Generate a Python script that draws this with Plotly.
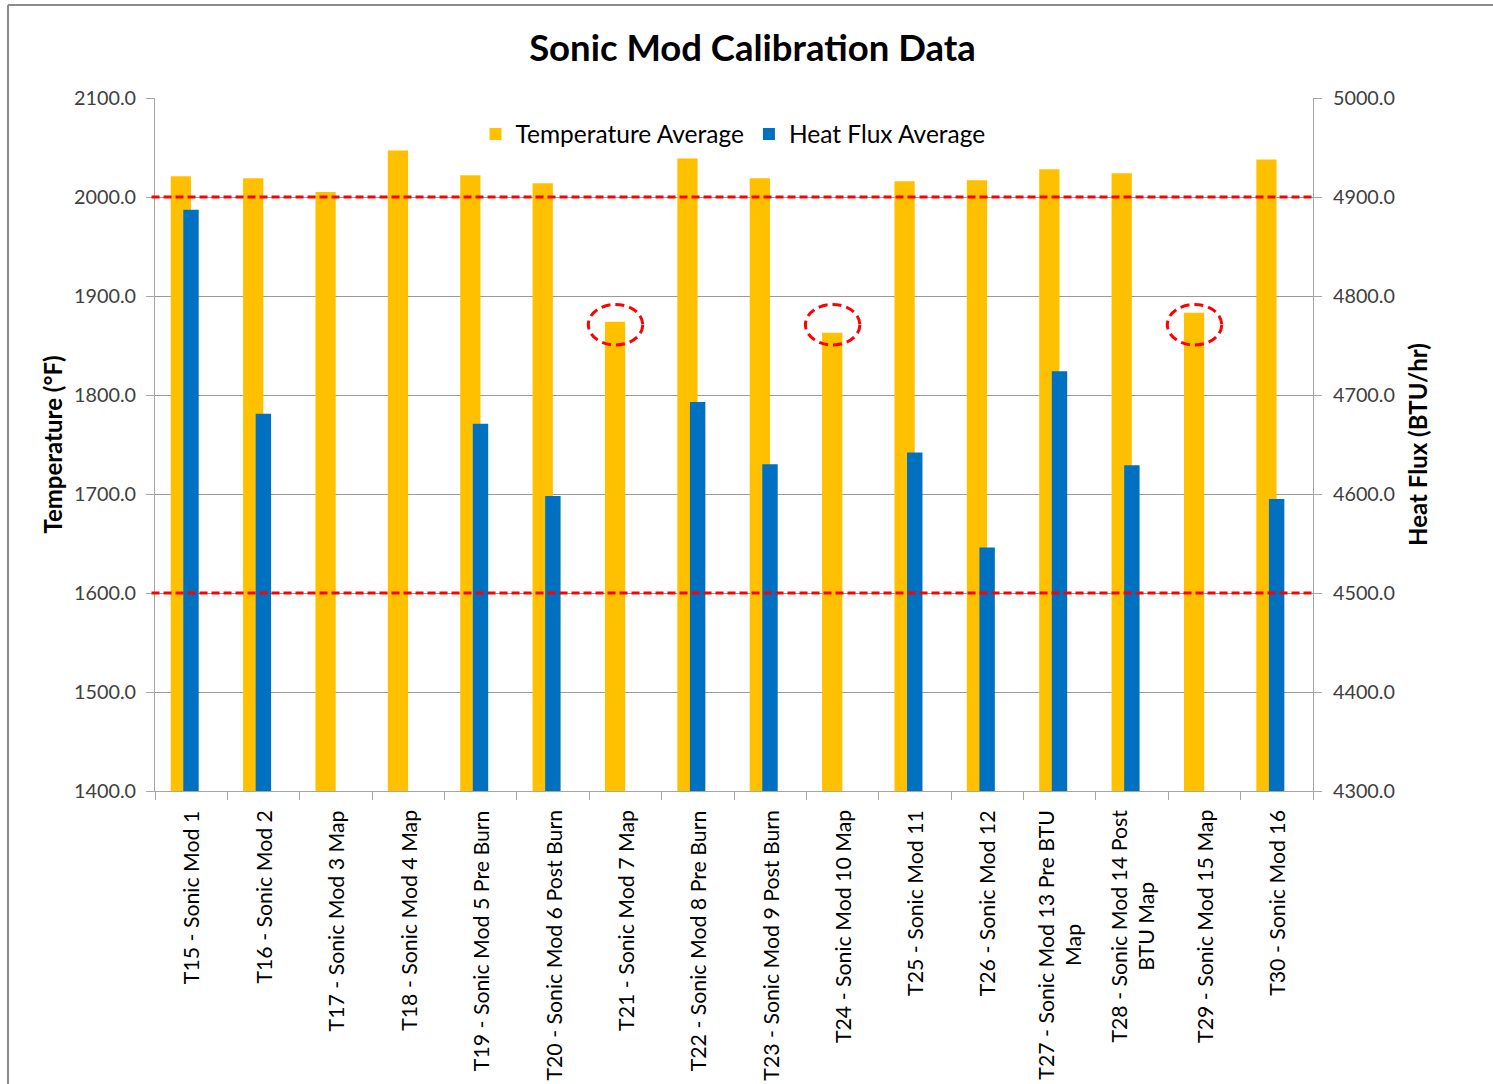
import plotly.graph_objects as go

# Test runs and their averaged measurements
categories = [
    "T15 - Sonic Mod 1",
    "T16 - Sonic Mod 2",
    "T17 - Sonic Mod 3 Map",
    "T18 - Sonic Mod 4 Map",
    "T19 - Sonic Mod 5 Pre Burn",
    "T20 - Sonic Mod 6 Post Burn",
    "T21 - Sonic Mod 7 Map",
    "T22 - Sonic Mod 8 Pre Burn",
    "T23 - Sonic Mod 9 Post Burn",
    "T24 - Sonic Mod 10 Map",
    "T25 - Sonic Mod 11",
    "T26 - Sonic Mod 12",
    "T27 - Sonic Mod 13 Pre BTU<br>Map",
    "T28 - Sonic Mod 14 Post<br>BTU Map",
    "T29 - Sonic Mod 15 Map",
    "T30 - Sonic Mod 16",
]
temperature_avg = [2021, 2019, 2005, 2047, 2022, 2014, 1874, 2039,
                   2019, 1863, 2016, 2017, 2028, 2024, 1883, 2038]
heat_flux_avg = [4887, 4681, None, None, 4671, 4598, None, 4693,
                 4630, None, 4642, 4546, 4724, 4629, None, 4595]

# Temperature acceptance band (°F)
temp_limits = [2000, 1600]
# Runs whose temperature fell below the band
flagged_runs = ["T21 - Sonic Mod 7 Map", "T24 - Sonic Mod 10 Map", "T29 - Sonic Mod 15 Map"]
flag_level = 1871

FONT = "Lato, Calibri, 'Open Sans', sans-serif"
W, H = 1493, 1084
L, R, T, B = 155, 180, 98, 293
plot_w = W - L - R
plot_h = H - T - B

fig = go.Figure()
fig.add_trace(go.Bar(
    name="Temperature Average", x=categories, y=temperature_avg,
    yaxis="y", width=0.28, offset=-0.283, marker_color="#FFC000",
    marker_line_width=0,
))
fig.add_trace(go.Bar(
    name="Heat Flux Average", x=categories, y=heat_flux_avg,
    yaxis="y2", width=0.213, offset=-0.109, marker_color="#0070C0",
    marker_line_width=0,
))

shapes = []
for lim in temp_limits:
    shapes.append(dict(type="line", xref="paper", yref="y", x0=-0.003, x1=1.0,
                       y0=lim, y1=lim, line=dict(color="#FF0000", width=3, dash="8px,4px"),
                       layer="above"))
for run in flagged_runs:
    i = categories.index(run)
    cx = i - 0.137
    shapes.append(dict(type="circle", xref="x", yref="y",
                       x0=cx - 0.376, x1=cx + 0.376,
                       y0=flag_level - 20.5, y1=flag_level + 20.5,
                       line=dict(color="#FF0000", width=3, dash="9px,5px"),
                       layer="above"))
# chart frame (left and top edges)
fx = (8 - L) / plot_w
fy = 1 + (T - 5) / plot_h
shapes.append(dict(type="line", xref="paper", yref="paper", x0=fx, x1=1.3, y0=fy, y1=fy,
                   line=dict(color="#8C8C8C", width=2)))
shapes.append(dict(type="line", xref="paper", yref="paper", x0=fx, x1=fx, y0=fy, y1=-0.5,
                   line=dict(color="#8C8C8C", width=2)))

annotations = []
for c in categories:
    annotations.append(dict(
        x=c, xref="x", y=-17 / plot_h, yref="paper", text=c, showarrow=False,
        textangle=-90, xanchor="center", yanchor="top", align="center",
        font=dict(family=FONT, size=21.3, color="#000000"),
    ))

axis_font = dict(family=FONT, size=19.8, color="#404040")
title_font = dict(family=FONT, size=24, color="#000000", weight="bold")
fig.update_layout(
    width=W, height=H,
    margin=dict(l=L, r=R, t=T, b=B, autoexpand=False),
    paper_bgcolor="white", plot_bgcolor="white",
    barmode="overlay",
    title=dict(text="Sonic Mod Calibration Data", x=0.504, xref="container",
               y=1 - 48 / H, yref="container", xanchor="center", yanchor="middle",
               font=dict(family=FONT, size=36.5, color="#000000", weight="bold")),
    xaxis=dict(type="category", range=[-0.5, 15.5], showticklabels=False,
               tickson="boundaries", ticks="outside", ticklen=8, tickcolor="#A6A6A6",
               showline=True, linecolor="#A6A6A6", linewidth=1, showgrid=False,
               zeroline=False),
    yaxis=dict(range=[1400, 2100], dtick=100, tickformat=".1f",
               ticks="outside", ticklen=8, tickcolor="#A6A6A6", ticklabelstandoff=6,
               showline=True, linecolor="#A6A6A6", linewidth=1,
               showgrid=True, gridcolor="#9A9A9A", gridwidth=1, zeroline=False,
               tickfont=axis_font,
               title=dict(text="Temperature (°F)", standoff=4, font=title_font)),
    yaxis2=dict(range=[4300, 5000], dtick=100, tickformat=".1f", overlaying="y",
                side="right", ticks="outside", ticklen=8, tickcolor="#A6A6A6",
                ticklabelstandoff=7,
                showline=True, linecolor="#A6A6A6", linewidth=1,
                showgrid=False, zeroline=False, tickfont=axis_font,
                title=dict(text="Heat Flux (BTU/hr)", standoff=16, font=title_font)),
    legend=dict(orientation="h", x=(733 - L) / plot_w, xanchor="center",
                y=(H - B - 134) / plot_h, yanchor="middle",
                font=dict(family=FONT, size=24.5, color="#000000"),
                bgcolor="rgba(0,0,0,0)", itemwidth=30),
    shapes=shapes,
    annotations=annotations,
    showlegend=True,
)

fig.write_html("out.html")
